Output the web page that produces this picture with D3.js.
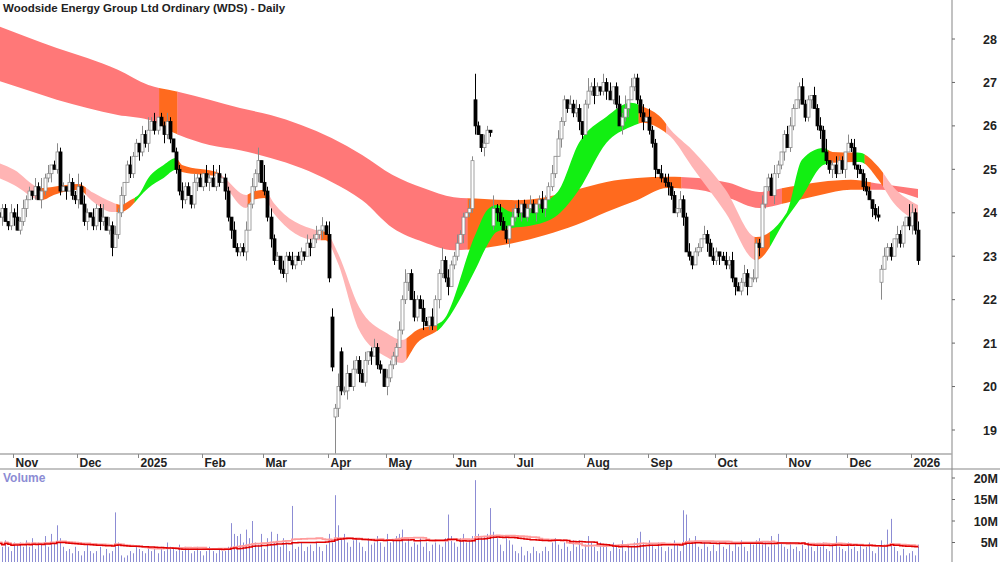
<!DOCTYPE html>
<html><head><meta charset="utf-8">
<script src="https://cdnjs.cloudflare.com/ajax/libs/d3/7.8.5/d3.min.js"></script>
<style>body{margin:0;background:#fff}svg{display:block}text{font-family:"Liberation Sans",Arial,sans-serif}</style>
</head><body><svg id="c" width="1000" height="562"></svg>
<script>
// ---- DATA ----
const title = "Woodside Energy Group Ltd Ordinary (WDS) - Daily";
const closes = [
24.0,23.9,24.1,23.8,23.7,24.0,23.9,23.6,23.8,24.1,
24.3,24.5,24.4,24.6,24.3,24.5,24.8,24.9,25.1,25.0,
25.4,24.5,24.6,24.5,24.7,24.4,24.3,24.6,24.2,23.8,
24.0,23.9,23.7,24.1,23.8,23.9,23.6,23.7,23.2,23.5,
24.0,24.4,24.7,25.1,24.9,25.3,25.6,25.4,25.8,25.6,
25.9,26.1,25.9,26.2,26.0,25.8,26.1,25.7,25.4,25.0,
24.5,24.3,24.6,24.4,24.2,24.7,24.8,24.6,24.9,24.7,
24.8,24.6,24.9,24.7,24.8,24.5,23.9,23.6,23.2,23.1,
23.2,23.1,23.6,24.2,24.6,24.9,25.2,24.7,24.5,23.9,
23.4,22.9,23.0,22.7,22.6,23.0,22.9,22.8,23.0,22.9,
23.1,23.0,23.3,23.2,23.4,23.5,23.6,23.7,23.5,22.5,
20.45,19.5,20.0,19.9,19.9,20.3,20.0,20.4,20.6,20.3,
20.1,20.6,20.8,20.7,20.9,20.5,20.4,20.0,20.2,20.5,
20.7,20.9,21.3,22.0,22.4,22.6,22.0,21.6,22.0,21.8,
21.5,21.4,21.6,21.4,22.0,22.6,22.9,22.5,22.3,22.8,
23.0,23.3,23.5,23.9,24.0,24.1,25.2,26.0,25.8,25.5,
25.6,25.9,25.85,24.1,24.0,23.8,23.6,23.4,23.7,23.9,
24.1,24.0,24.2,23.9,24.1,24.2,24.0,24.2,24.3,24.1,
24.3,24.6,24.9,25.3,25.7,26.1,26.6,26.4,26.5,26.3,
26.4,26.1,25.8,26.5,26.8,26.9,26.7,26.9,26.8,27.0,
26.8,26.6,26.9,26.5,26.0,26.2,26.4,26.6,26.9,27.1,
26.6,26.3,26.1,26.2,25.9,25.6,25.0,24.9,24.8,24.7,
24.6,24.4,24.0,24.1,24.3,23.9,23.1,23.0,22.8,23.1,
23.2,23.4,23.5,23.3,23.0,22.9,23.1,23.0,22.9,22.8,
22.9,22.5,22.3,22.2,22.4,22.6,22.3,22.5,22.5,23.3,
23.2,24.2,24.6,24.8,24.4,24.9,25.1,25.4,25.8,25.5,
26.0,26.4,26.6,26.9,26.5,26.2,26.6,26.7,26.4,26.0,
25.9,25.4,25.2,25.0,25.1,24.9,25.2,25.0,25.4,25.6,
25.5,25.1,25.0,24.9,24.6,24.5,24.3,24.1,23.95,23.9,
22.7,23.0,23.2,23.0,23.4,23.5,23.3,23.7,23.9,23.7,
24.0,23.6,22.9];
// opens on gap days (others open at the prior close)
const gapOpens = {0:24.2,110:21.6,111:19.3,113:20.8,157:26.6,163:23.7,290:22.4};
// wick lengths in tenths of a dollar
const wickUp = "1211021312 1102131201 2110211312 1021130212 1201211021 3120112101 1211021102 1312011021 1120213041 2110211201 1021120213 2131120211 1201211021 1121301211 2102113121 1211021610 2103121102 1201121012 1120211021 2101312102 1201213021 1120211021 2110211201 1021121012 1201121021 1201121012 2101211021 2130121102 1201121012 1211021103 212";
const wickDn = "1120112011 2011021120 1102011201 2011210120 1120110211 2011021101 1210112011 2011021201 1120112011 2101120110 1102011201 1921120112 0112011021 1201120110 2011021120 1102011201 2011210120 1120110211 2011021101 1210112011 2011021201 1120112011 2101120110 1102011201 1120112011 2011021120 1102011201 2011210120 1120110211 4011021101 211";
const volumesM = [
4.5,5,4,5.5,4,3,5,4.5,5,4, 5.5,4,6,3.5,5,4.5,6.5,4,7,5, 9,6,4,3,3.5,2.5,4,3,2,3,
4.5,3,2.5,3,4,2,3.5,2.5,3,12, 5,2,1.5,2,3,2.5,4,3.5,3,2.5, 4,3,3.5,2.5,4,3,5,4,3.5,3,
4.5,3,4,3.5,2.5,3,4,3,2,3, 4,3,2.5,3.5,3,3,4,9.5,7,6.5, 7,5,8,6,10,5,4.5,7,3.5,6,
7.5,5,7,4,6,5,3,13.5,3.5,4, 5,3,4,4.5,3,5,4,3,4.5,7, 5,16,9,6,7,5,4,5.5,6,5,
4,3,6,4.5,5,6.5,5,4,7,5, 5.5,6.5,7,8,5,6,4,5,4.5,6, 4,5,3,4.5,5,4.5,4,6,11.5,6.5,
5,4,6,7,5,5.5,6.5,19.5,7,6.5, 6.5,7,13,7.5,6,4.5,3,6,5.5,4.5, 3,2.5,4,2,3,2.5,4,3,2.5,3,
4,3,5,6,4.5,3.5,5,4,3,5.5, 4,5.5,3.5,4.5,6.5,5,4,3,5,4, 4.5,3,5,4,3.5,5.5,3,4.5,4,5,
6,7.5,5,4,5.5,4.5,3.5,5,4,3, 4,3.5,5.5,4.5,3,12.5,11.5,6,5,6.5, 4,3.5,5,4,3,4.5,3,5,4,3.5,
4.5,3,5,4,5.5,4,3,5,4.5,5.5, 6,4.5,5,4,6.5,4.5,7,5,4,3.5, 5,3.5,4,3,4.5,3.5,5,4,3,4.5,
4,5,3.5,3,4.5,6.5,4,3.5,3,5, 3.5,4,3,4.5,3.5,4,5,3,2.5,4, 5.5,4.5,8,10.5,4,3,2,3.5,2,2.5,
3,2,4.5];
// long-term ribbon samples: [day index, upper, lower]
const longRibbon = [[0,28.32,27.06],[10,28.05,26.83],[20,27.79,26.60],[30,27.56,26.41],[40,27.29,26.25],
[50,26.94,26.14],[60,26.78,25.79],[70,26.60,25.56],[80,26.41,25.44],[90,26.25,25.26],[100,26.02,25.03],
[110,25.72,24.71],[120,25.33,24.29],[130,24.87,23.65],[140,24.57,23.33],[150,24.36,23.14],[160,24.32,23.19],
[170,24.29,23.31],[180,24.36,23.49],[190,24.53,23.72],[200,24.71,24.02],[210,24.80,24.29],[220,24.83,24.57],
[230,24.80,24.53],[240,24.69,24.34],[250,24.48,24.11],[260,24.60,24.25],[270,24.71,24.41],[280,24.76,24.53],
[290,24.66,24.53],[302,24.55,24.34]];
const longColors = [[0,"red"],[54,"orange"],[60,"red"],[155,"orange"],[225,"red"],[258,"orange"],[287,"red"]];
// short-term ribbon samples: [day index, upper, lower]
const shortRibbon = [[0,25.17,24.83],[6,24.99,24.64],[15,24.57,24.29],[19,24.60,24.41],[27,24.66,24.53],
[32,24.46,24.25],[38,24.25,24.02],[41,24.18,24.02],[44,24.29,24.13],[47,24.43,24.36],[50,24.80,24.57],
[55,25.10,24.80],[59,25.26,24.99],[61,25.10,24.94],[73,24.92,24.83],[75,24.80,24.64],[82,24.41,24.11],
[84,24.48,24.29],[88,24.53,24.34],[91,24.23,23.99],[105,23.60,23.37],[108,23.56,23.37],[112,23.08,22.85],
[119,21.83,21.30],[128,21.23,20.68],[133,21.07,20.54],[138,21.30,21.00],[146,21.49,21.37],[157,23.49,22.68],
[161,24.07,23.26],[164,24.18,23.56],[169,24.02,23.65],[175,24.13,23.70],[184,24.48,23.95],[191,25.61,24.53],
[200,26.21,25.61],[208,26.53,25.98],[212,26.44,26.07],[218,26.18,25.91],[221,25.91,25.75],[228,25.45,25.06],
[239,24.53,24.00],[249,23.44,22.91],[259,24.00,23.88],[264,25.22,24.37],[271,25.49,25.10],[274,25.40,25.15],
[283,25.38,25.17],[289,25.06,24.76],[294,24.59,24.23],[302,24.18,23.79]];
const shortColors = [[0,"pink"],[14,"orange"],[30,"pink"],[40,"orange"],[46,"green"],[60,"orange"],[74,"pink"],
[83,"orange"],[90,"pink"],[107,"orange"],[110,"pink"],[135,"orange"],[145,"green"],[211,"orange"],[220,"pink"],
[249,"orange"],[254,"green"],[273,"orange"],[282,"green"],[285,"orange"],[291,"pink"]];
const priceTicks = [19,20,21,22,23,24,25,26,27,28];
const volTicks = [5,10,15,20];
const monthNames = ["2025","Feb","Mar","Apr","May","Jun","Jul","Aug","Sep","Oct","Nov","Dec"];
const holidays = ["2024-12-25","2024-12-26","2025-01-01","2025-01-27","2025-04-18","2025-04-21","2025-04-25","2025-06-09","2025-12-25","2025-12-26","2026-01-01"];
const lastDate = "2026-01-06";

// ---- BUILD ----
const N = closes.length;
const fmt = d3.utcFormat("%Y-%m-%d");
const dates = [];
let d = new Date(lastDate + "T00:00:00Z");
while (dates.length < N) {
  const wd = d.getUTCDay();
  if (wd !== 0 && wd !== 6 && !holidays.includes(fmt(d))) dates.unshift(new Date(d));
  d = new Date(d.getTime() - 86400000);
}
const up = wickUp.replace(/ /g,""), dn = wickDn.replace(/ /g,"");
const bars = closes.map((c,i)=>{
  const o = gapOpens[i] !== undefined ? gapOpens[i] : closes[i-1];
  return {i, o, c, h: Math.max(o,c)+(+up[i]||0)/10, l: Math.min(o,c)-(+dn[i]||0)/10, v: volumesM[i]||0};
});

const svg = d3.select("#c");
const W = 1000, axisX = 952;
const iNov = dates.findIndex(dt=>dt.getUTCMonth()===10);
const x = d3.scaleLinear().domain([iNov, N-1]).range([14, 918]);
const y = d3.scaleLinear().domain([19, 28]).range([430, 39]);
const yv = d3.scaleLinear().domain([0, 20]).range([564, 478]);

svg.append("defs").append("clipPath").attr("id","mainclip").append("rect").attr("x",0).attr("y",0).attr("width",axisX).attr("height",454);
svg.select("defs").append("clipPath").attr("id","volclip").append("rect").attr("x",0).attr("y",470).attr("width",axisX).attr("height",92);

const colorMap = {red:"#ff7878", orange:"#ff6a1e", pink:"#ffb4b4", green:"#12ef12"};
const main = svg.append("g").attr("clip-path","url(#mainclip)");

function ribbon(samples, colors, id){
  const area = d3.area().x(s=>x(s[0])).y0(s=>y(s[2])).y1(s=>y(s[1])).curve(d3.curveMonotoneX);
  colors.forEach((seg,k)=>{
    const start = seg[0], end = k+1<colors.length ? colors[k+1][0] : N+2;
    const cid = id+"c"+k;
    const x0 = k===0 ? -20 : x(start-0.5);
    svg.select("defs").append("clipPath").attr("id",cid).append("rect")
      .attr("x", x0).attr("y",0).attr("width", x(end-0.5)-x0+(k+1<colors.length?0.3:50)).attr("height",460);
    main.append("path").attr("d", area(samples)).attr("fill", colorMap[seg[1]]).attr("clip-path",`url(#${cid})`);
  });
}
ribbon(longRibbon, longColors, "L");
ribbon(shortRibbon, shortColors, "S");

// candles
const cg = main.append("g");
bars.forEach(b=>{
  const cx = Math.round(x(b.i))+0.5;
  const upC = b.c >= b.o;
  cg.append("line").attr("x1",cx).attr("x2",cx).attr("y1",y(b.h)).attr("y2",y(b.l))
    .attr("stroke", upC?"#8a8a8a":"#000").attr("stroke-width",1);
  const top = y(Math.max(b.o,b.c)), bot = y(Math.min(b.o,b.c));
  cg.append("rect").attr("x",cx-1.5).attr("y",top).attr("width",3).attr("height",Math.max(1,bot-top))
    .attr("fill", upC?"#fff":"#000").attr("stroke", upC?"#8a8a8a":"#000").attr("stroke-width",0.8);
});

// title
svg.append("text").attr("x",3).attr("y",12).attr("font-size",11.5).attr("font-weight","bold").attr("fill","#222").text(title);

// right axis
svg.append("line").attr("x1",axisX).attr("x2",axisX).attr("y1",0).attr("y2",562).attr("stroke","#999").attr("stroke-width",1.2);
priceTicks.forEach(p=>{
  svg.append("line").attr("x1",axisX).attr("x2",axisX+3).attr("y1",y(p)).attr("y2",y(p)).attr("stroke","#666");
  svg.append("text").attr("x",997).attr("y",y(p)+4.5).attr("text-anchor","end").attr("font-size",12.5).attr("font-weight","bold").attr("fill","#222").text(p);
});

// date strip
svg.append("line").attr("x1",0).attr("x2",axisX).attr("y1",454).attr("y2",454).attr("stroke","#aaa").attr("stroke-width",1.5);
svg.append("line").attr("x1",0).attr("x2",W).attr("y1",469).attr("y2",469).attr("stroke","#888").attr("stroke-width",1.2);
let prevM = dates[0].getUTCMonth();
const monthStarts = [];
dates.forEach((dt,i)=>{ const m = dt.getUTCMonth(); if (i>0 && m!==prevM) monthStarts.push([i,dt]); prevM = m; });
monthStarts.forEach(([i,dt])=>{
  const m = dt.getUTCMonth();
  const lab = m===0 ? String(dt.getUTCFullYear()) : monthNames[m];
  const tx = Math.round(x(i)-1)+0.5;
  svg.append("line").attr("x1",tx).attr("x2",tx).attr("y1",454).attr("y2",458).attr("stroke","#888");
  svg.append("text").attr("x",tx+2).attr("y",467).attr("font-size",12).attr("font-weight","bold").attr("fill","#222").text(lab);
});

// volume
const vg = svg.append("g").attr("clip-path","url(#volclip)");
bars.forEach(b=>{
  const cx = Math.round(x(b.i))+0.5;
  vg.append("line").attr("x1",cx).attr("x2",cx).attr("y1",yv(0)).attr("y2",yv(b.v)).attr("stroke","#8c8cd4").attr("stroke-width",1);
});
function sma(p){ return bars.map((b,i)=>{ const s = bars.slice(Math.max(0,i-p+1), i+1); return [i, d3.mean(s, q=>q.v)]; }); }
const ln = d3.line().x(p=>x(p[0])).y(p=>yv(p[1])).curve(d3.curveStepAfter);
vg.append("path").attr("d", ln(sma(30).map(p=>[p[0],p[1]+0.25]))).attr("fill","none").attr("stroke","#ff9c9c").attr("stroke-width",1.8);
vg.append("path").attr("d", ln(sma(40))).attr("fill","none").attr("stroke","#e00000").attr("stroke-width",1.5);
svg.append("text").attr("x",3).attr("y",482).attr("font-size",12).attr("font-weight","bold").attr("fill","#8c8cd4").text("Volume");
volTicks.forEach(v=>{
  svg.append("line").attr("x1",axisX).attr("x2",axisX+3).attr("y1",yv(v)).attr("y2",yv(v)).attr("stroke","#666");
  svg.append("text").attr("x",998).attr("y",yv(v)+4.5).attr("text-anchor","end").attr("font-size",12.5).attr("font-weight","bold").attr("fill","#222").text(v+"M");
});
</script></body></html>
